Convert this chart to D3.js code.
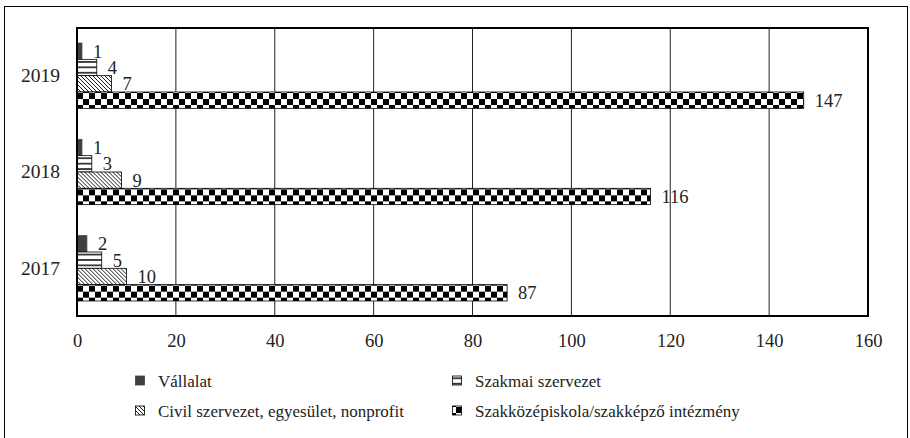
<!DOCTYPE html>
<html><head><meta charset="utf-8">
<script src="https://cdn.jsdelivr.net/npm/d3@7"></script>
<style>
body{margin:0;background:#fff;}
svg{display:block;font-family:"Liberation Serif","Times New Roman",serif;}
text{font-family:"Liberation Serif","Times New Roman",serif;}
</style></head>
<body>
<script>
const years = ["2019", "2018", "2017"];
const seriesNames = ["Vállalat", "Szakmai szervezet", "Civil szervezet, egyesület, nonprofit", "Szakközépiskola/szakképző intézmény"];
const vallalat = {"2017": 2, "2018": 1, "2019": 1};
const szakmai = {"2017": 5, "2018": 3, "2019": 4};
const civil = {"2017": 10, "2018": 9, "2019": 7};
const szakkozep = {"2017": 87, "2018": 116, "2019": 147};
const xTicks = [0, 20, 40, 60, 80, 100, 120, 140, 160];

const seriesVals = [vallalat, szakmai, civil, szakkozep];
const fills = ["#404040", "url(#hlines)", "url(#diag)", "url(#checker)"];

const W = 910, H = 438;
const svg = d3.select("body").append("svg").attr("width", W).attr("height", H);
const defs = svg.append("defs");

const ph = defs.append("pattern").attr("id", "hlines").attr("patternUnits", "userSpaceOnUse")
  .attr("width", 6).attr("height", 5.4);
ph.append("rect").attr("width", 6).attr("height", 5.4).attr("fill", "#fff");
ph.append("rect").attr("y", 2).attr("width", 6).attr("height", 1.4).attr("fill", "#000");

const pd = defs.append("pattern").attr("id", "diag").attr("patternUnits", "userSpaceOnUse")
  .attr("width", 4).attr("height", 4);
pd.append("rect").attr("width", 4).attr("height", 4).attr("fill", "#fff");
pd.append("path").attr("d", "M-1,-1 L5,5 M-1,3 L1,5 M3,-1 L5,1").attr("stroke", "#000").attr("stroke-width", 0.9);

const cs = 6;
const pc = defs.append("pattern").attr("id", "checker").attr("patternUnits", "userSpaceOnUse")
  .attr("width", 2 * cs).attr("height", 2 * cs).attr("x", 77).attr("y", 2);
pc.append("rect").attr("width", 2 * cs).attr("height", 2 * cs).attr("fill", "#fff");
pc.append("rect").attr("width", cs).attr("height", cs).attr("fill", "#000");
pc.append("rect").attr("x", cs).attr("y", cs).attr("width", cs).attr("height", cs).attr("fill", "#000");

// outer frame
svg.append("rect").attr("x", 4.5).attr("y", 6.5).attr("width", 903).attr("height", 440)
  .attr("fill", "none").attr("stroke", "#000").attr("stroke-width", 1);

const L = 77, R = 868, T = 28, B = 316;
const x = d3.scaleLinear().domain([0, 160]).range([L, R]);
const y0 = d3.scaleBand().domain(years).range([T, B]).paddingInner(0.322).paddingOuter(0.156);
const y1 = d3.scaleBand().domain(d3.range(seriesNames.length)).range([0, y0.bandwidth()]);

// gridlines
svg.append("g").selectAll("line").data(xTicks.slice(1, -1)).join("line")
  .attr("x1", d => x(d)).attr("x2", d => x(d)).attr("y1", T).attr("y2", B)
  .attr("stroke", "#222").attr("stroke-width", 1);

// bars
years.forEach(yr => {
  const g = svg.append("g").attr("transform", `translate(0,${y0(yr)})`);
  seriesVals.forEach((s, i) => {
    g.append("rect").attr("x", x(0)).attr("y", y1(i))
      .attr("width", x(s[yr]) - x(0)).attr("height", y1.bandwidth())
      .attr("fill", fills[i]).attr("stroke", i === 0 ? "#404040" : "#000").attr("stroke-width", 0.8);
    g.append("text").attr("x", x(s[yr]) + 11).attr("y", y1(i) + y1.bandwidth() / 2)
      .attr("dy", "0.35em").attr("font-size", 18.5).attr("fill", "#222").text(s[yr]);
  });
});

// plot border
svg.append("rect").attr("x", L).attr("y", T).attr("width", R - L).attr("height", B - T)
  .attr("fill", "none").attr("stroke", "#000").attr("stroke-width", 2);

// x axis labels
const xAxis = d3.axisBottom(x).tickValues(xTicks).tickSize(0).tickPadding(18);
const xg = svg.append("g").attr("transform", `translate(0,${B})`).call(xAxis);
xg.select(".domain").remove();
xg.selectAll("text").attr("font-size", 18.5).attr("font-family", "Liberation Serif").attr("fill", "#222");

// y labels
const yAxis = d3.axisLeft(y0).tickSize(0).tickPadding(17);
const yg = svg.append("g").attr("transform", `translate(${L},0)`).call(yAxis);
yg.select(".domain").remove();
yg.selectAll("text").attr("font-size", 19.5).attr("font-family", "Liberation Serif").attr("fill", "#222");

// legend
const legPos = [[140, 381], [457, 381], [140, 411], [457, 411]];
seriesNames.forEach((n, i) => {
  const g = svg.append("g").attr("transform", `translate(${legPos[i][0]},${legPos[i][1]})`);
  g.append("rect").attr("x", -4.5).attr("y", -5).attr("width", 9).attr("height", 9)
    .attr("fill", fills[i]).attr("stroke", i === 0 ? "#404040" : "#000").attr("stroke-width", 0.8);
  g.append("text").attr("x", 18).attr("y", 0).attr("dy", "0.35em")
    .attr("font-family", "Liberation Serif")
    .attr("font-size", 17).attr("fill", "#222").text(n);
});
</script>
</body></html>
